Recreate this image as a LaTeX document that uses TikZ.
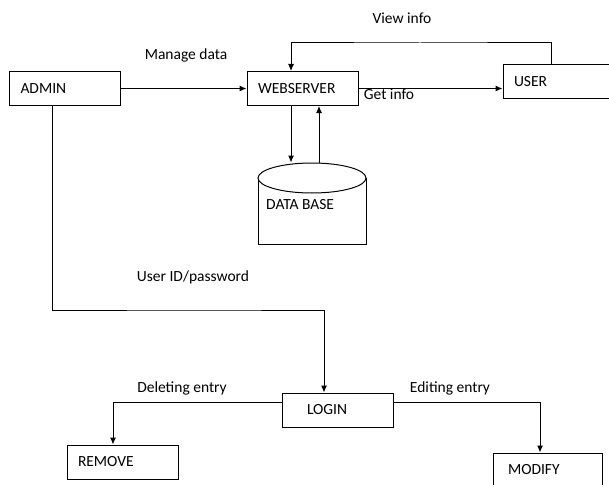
\documentclass[tikz,border=0pt]{standalone}
\usepackage{fontspec}
\setmainfont{Carlito}
\usetikzlibrary{shapes.geometric}
\usetikzlibrary{arrows.meta}
\tikzset{
 box/.style={draw, line width=1pt, minimum height=34, inner xsep=11, text width=89, align=left, font=\fontsize{15.5}{18}\selectfont},
 lbl/.style={inner sep=0, font=\fontsize{15.5}{18}\selectfont},
 flow/.style={line width=1pt, ->, >={Latex[length=7pt,width=6pt]}}
}

\begin{document}
\begin{tikzpicture}[x=1pt, y=-1pt]
\useasboundingbox (0,0) rectangle (609,484);
\clip (0,0) rectangle (609,484);
% boxes
\node[box] (admin) at (65,88.5) {ADMIN};
\node[box] (web) at (302.5,88.5) {WEBSERVER};
\node[box] (user) at (558.5,81.5) {USER};
\node[box, inner xsep=25, text width=61] (login) at (337.5,410) {LOGIN};
\node[box] (remove) at (122.5,462) {REMOVE};
\node[box, inner xsep=15, text width=79] (modify) at (547.5,470) {MODIFY};
% data base
\draw[line width=1pt] (258,178) -- (258,244) -- (366,244) -- (366,178);
\node[draw, ellipse, line width=1pt, fill=white, minimum width=108, minimum height=30, inner sep=0] (dbtop) at (312,178) {};
\node[lbl, anchor=west] (db) at (266,205) {DATA BASE};
% labels
\node[lbl] (manage) at (186,55) {Manage data};
\node[lbl] (view) at (402,18) {View info};
\node[lbl] (get) at (389,94) {Get info};
\node[lbl] (userid) at (193,277) {User ID/password};
\node[lbl] (del) at (182,388) {Deleting entry};
\node[lbl] (edit) at (450,388) {Editing entry};
% connectors
\coordinate (vtop) at (420,43);
\coordinate (lbend) at (200,310);
\draw[flow] (admin.east) -- (web.west);
\draw[flow] (web.east) -- (web.east -| user.west);
\draw[flow] ([xshift=-7.5]user.north) |- (vtop) -| ([xshift=-11.5]web.north);
\draw[flow] ([xshift=-11.5]web.south) -- ([xshift=-11.5]web.south |- dbtop.north);
\draw[flow] ([xshift=7]dbtop.north) -- ([xshift=7]dbtop.north |- web.south);
\draw[flow] ([xshift=-13]admin.south) |- (lbend) -| ([xshift=-13.5]login.north);
\draw[flow] ([yshift=8]login.west) -| ([xshift=-9.5]remove.north);
\draw[flow] ([yshift=8]login.east) -| ([xshift=-7.5]modify.north);
\end{tikzpicture}
\end{document}
